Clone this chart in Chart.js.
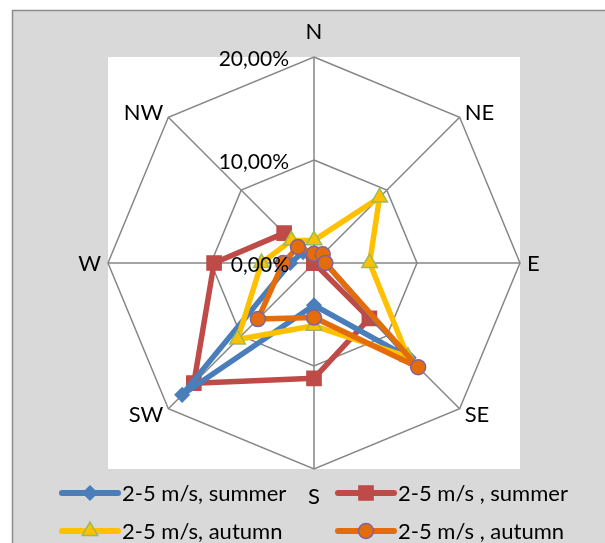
<!DOCTYPE html>
<html>
<head>
<meta charset="utf-8">
<script src="https://cdn.jsdelivr.net/npm/chart.js@4.4.1/dist/chart.umd.min.js"></script>
<style>
  html, body { margin: 0; padding: 0; background: #fff; }
  #wrap { width: 605px; height: 543px; position: relative; }
</style>
</head>
<body>
<div id="wrap"><canvas id="mainChart"></canvas></div>
<script>
// directions and values (percent)
const directions = ['N', 'NE', 'E', 'SE', 'S', 'SW', 'W', 'NW'];
const summerBlue = [1.0, 1.0, 1.1, 13.0, 4.1, 18.1, 2.3, 1.5];
const summerRed = [0, 0, 0, 7.6, 11.2, 16.5, 9.7, 4.1];
const autumnYellow = [2.2, 9.0, 5.4, 12.9, 6.1, 10.5, 5.1, 3.1];
const autumnOrange = [0.9, 1.2, 1.1, 14.3, 5.3, 7.7, 3.0, 2.2];
const tickValues = [0, 10, 20];
const tickLabels = ['0,00%', '10,00%', '20,00%'];
const seriesNames = ['2-5 m/s, summer', '2-5 m/s , summer', '2-5 m/s, autumn', '2-5 m/s , autumn'];

const FONT = '22px Lato';
const TICK_FONT = '21px Lato';

// fond gris + zone blanche du radar
const backgroundPlugin = {
    id: 'bg',
    beforeDraw(chart) {
        const ctx = chart.ctx;
        const s = chart.scales.r;
        ctx.save();
        ctx.fillStyle = '#ffffff';
        ctx.fillRect(0, 0, chart.width, chart.height);
        ctx.fillStyle = '#d9d9d9';
        ctx.fillRect(12, 10, chart.width - 12, chart.height - 10);
        ctx.strokeStyle = '#8c8c8c';
        ctx.lineWidth = 1.5;
        ctx.beginPath();
        ctx.moveTo(12.5, chart.height);
        ctx.lineTo(12.5, 10.5);
        ctx.lineTo(chart.width, 10.5);
        ctx.stroke();
        ctx.fillStyle = '#ffffff';
        const r = s.drawingArea;
        ctx.fillRect(s.xCenter - r, s.yCenter - r, 2 * r, 2 * r);
        ctx.restore();
    }
};

// étiquettes des graduations (au-dessus des séries)
const tickPlugin = {
    id: 'ticks',
    afterDatasetsDraw(chart) {
        const ctx = chart.ctx;
        const s = chart.scales.r;
        ctx.save();
        ctx.font = TICK_FONT;
        ctx.fillStyle = '#000';
        ctx.textAlign = 'right';
        ctx.textBaseline = 'middle';
        tickValues.forEach((v, i) => {
            const d = s.getDistanceFromCenterForValue(v);
            ctx.fillText(tickLabels[i], s.xCenter - 25, s.yCenter - d + 2);
        });
        ctx.restore();
    }
};

// directions + légende
const labelPlugin = {
    id: 'labels',
    afterDraw(chart) {
        const ctx = chart.ctx;
        const s = chart.scales.r;
        const r = s.drawingArea;
        ctx.save();
        ctx.font = FONT;
        ctx.fillStyle = '#000';
        ctx.textBaseline = 'middle';
        directions.forEach((lab, i) => {
            const p = s.getPointPosition(i, r);
            const ux = (p.x - s.xCenter) / r;
            const uy = (p.y - s.yCenter) / r;
            let x = p.x, y = p.y, align = 'center';
            if (Math.abs(ux) < 0.01) {
                y += uy < 0 ? -26 : 27;
            } else {
                align = ux > 0 ? 'left' : 'right';
                x += Math.sign(ux) * (Math.abs(uy) < 0.01 ? 7 : 5);
                y += uy * 7;
            }
            ctx.textAlign = align;
            ctx.fillText(lab, x, y + 1);
        });

        // légende sur deux lignes
        const cols = [62, 338];
        const rows = [493, 531];
        chart.data.datasets.forEach((ds, i) => {
            const x0 = cols[i % 2], y = rows[Math.floor(i / 2)];
            ctx.strokeStyle = ds.borderColor;
            ctx.lineWidth = 6;
            ctx.lineCap = 'round';
            ctx.beginPath();
            ctx.moveTo(x0, y);
            ctx.lineTo(x0 + 56, y);
            ctx.stroke();
            ctx.fillStyle = ds.pointBackgroundColor;
            ctx.strokeStyle = ds.pointBorderColor;
            ctx.lineWidth = ds.pointBorderWidth;
            Chart.helpers.drawPoint(ctx, {
                pointStyle: ds.pointStyle, radius: ds.pointRadius,
                rotation: 0, borderWidth: ds.pointBorderWidth
            }, x0 + 28, y);
            ctx.fillStyle = '#000';
            ctx.textAlign = 'left';
            ctx.fillText(ds.label, x0 + 60, y + 1);
        });
        ctx.restore();
    }
};

function series(label, data, color, style, radius, pColor, pBorder, order) {
    return {
        label: label,
        data: data,
        borderColor: color,
        borderWidth: 5.5,
        borderJoinStyle: 'round',
        borderCapStyle: 'round',
        fill: false,
        pointStyle: style,
        pointRadius: radius,
        pointHoverRadius: radius,
        pointBackgroundColor: pColor,
        pointBorderColor: pBorder,
        pointBorderWidth: 1.5,
        order: order
    };
}

const ctx = document.getElementById('mainChart').getContext('2d');
window.myChart = new Chart(ctx, {
    type: 'radar',
    data: {
        labels: directions,
        datasets: [
            series(seriesNames[0], summerBlue, '#4a7ebb', 'rectRot', 7, '#4a7ebb', '#4a7ebb', 2),
            series(seriesNames[1], summerRed, '#be4b48', 'rect', 10, '#be4b48', '#be4b48', 3),
            series(seriesNames[2], autumnYellow, '#ffc000', 'triangle', 9, '#ffc000', '#9bbb59', 1),
            series(seriesNames[3], autumnOrange, '#e46c0a', 'circle', 7.5, '#e46c0a', '#7f63a1', 0)
        ]
    },
    options: {
        responsive: true,
        maintainAspectRatio: false,
        animation: false,
        layout: { padding: { left: 108, top: 57, right: 85, bottom: 74 } },
        elements: { line: { tension: 0 } },
        scales: {
            r: {
                min: 0,
                max: 20,
                ticks: { display: false, stepSize: 10 },
                pointLabels: { display: false },
                grid: { color: '#868686', lineWidth: 1.5 },
                angleLines: { color: '#868686', lineWidth: 1.5 }
            }
        },
        plugins: {
            legend: { display: false },
            tooltip: { enabled: false }
        }
    },
    plugins: [backgroundPlugin, tickPlugin, labelPlugin]
});
</script>
</body>
</html>
